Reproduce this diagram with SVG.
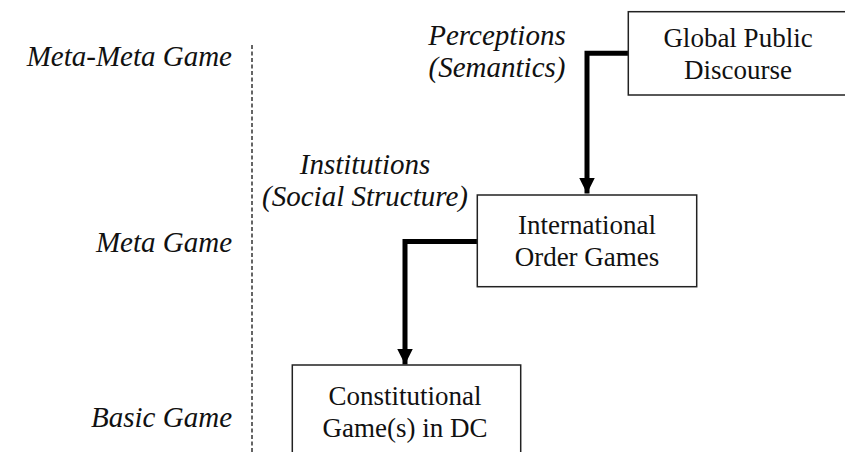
<svg xmlns="http://www.w3.org/2000/svg" width="845" height="452" viewBox="0 0 845 452">
  <defs>
    <marker id="arrow" viewBox="0 0 16 16" refX="16" refY="8" markerWidth="16" markerHeight="16" markerUnits="userSpaceOnUse" orient="auto">
      <path d="M0,0 L16,8 L0,16 Z" fill="#000000"/>
    </marker>
  </defs>
  <rect width="845" height="452" fill="#ffffff"/>

  <g id="levels" fill="#111111" style="font-family:'Liberation Serif','Times New Roman',serif">
    <text x="232" y="66" style="font-family:'Liberation Serif','Times New Roman',serif;font-size:29px;font-style:italic" text-anchor="end">Meta-Meta Game</text>
    <text x="232" y="252" style="font-family:'Liberation Serif','Times New Roman',serif;font-size:29px;font-style:italic" text-anchor="end">Meta Game</text>
    <text x="232" y="427" style="font-family:'Liberation Serif','Times New Roman',serif;font-size:29px;font-style:italic" text-anchor="end">Basic Game</text>
    <line x1="252" y1="45" x2="252" y2="452" stroke="#333333" stroke-width="1.5" stroke-dasharray="4 2.5"/>
  </g>

  <g id="edge-labels" fill="#111111" style="font-family:'Liberation Serif','Times New Roman',serif">
    <text x="497" y="45" style="font-family:'Liberation Serif','Times New Roman',serif;font-size:29px;font-style:italic" text-anchor="middle">Perceptions</text>
    <text x="497" y="77" style="font-family:'Liberation Serif','Times New Roman',serif;font-size:29px;font-style:italic" text-anchor="middle">(Semantics)</text>
    <text x="365" y="174" style="font-family:'Liberation Serif','Times New Roman',serif;font-size:29px;font-style:italic" text-anchor="middle">Institutions</text>
    <text x="365" y="206" style="font-family:'Liberation Serif','Times New Roman',serif;font-size:29px;font-style:italic" text-anchor="middle">(Social Structure)</text>
  </g>

  <g id="connectors" fill="none" stroke="#000000" stroke-width="5">
    <polyline points="628,53.3 587,53.3 587,193.5" marker-end="url(#arrow)"/>
    <polyline points="477,241.5 405,241.5 405,364.5" marker-end="url(#arrow)"/>
  </g>

  <g id="global-public-discourse" style="font-family:'Liberation Serif','Times New Roman',serif">
    <rect x="628.3" y="11.7" width="230" height="83.3" fill="#ffffff" stroke="#222222" stroke-width="1.5"/>
    <text x="738" y="47" style="font-family:'Liberation Serif','Times New Roman',serif;font-size:27px" text-anchor="middle" fill="#111111">Global Public</text>
    <text x="738" y="79" style="font-family:'Liberation Serif','Times New Roman',serif;font-size:27px" text-anchor="middle" fill="#111111">Discourse</text>
  </g>

  <g id="international-order-games" style="font-family:'Liberation Serif','Times New Roman',serif">
    <rect x="477.3" y="195" width="219.4" height="91.7" fill="#ffffff" stroke="#222222" stroke-width="1.5"/>
    <text x="587" y="233.5" style="font-family:'Liberation Serif','Times New Roman',serif;font-size:27px" text-anchor="middle" fill="#111111">International</text>
    <text x="587" y="265.5" style="font-family:'Liberation Serif','Times New Roman',serif;font-size:27px" text-anchor="middle" fill="#111111">Order Games</text>
  </g>

  <g id="constitutional-games" style="font-family:'Liberation Serif','Times New Roman',serif">
    <rect x="292.3" y="365" width="228.4" height="100" fill="#ffffff" stroke="#222222" stroke-width="1.5"/>
    <text x="405" y="405" style="font-family:'Liberation Serif','Times New Roman',serif;font-size:27px" text-anchor="middle" fill="#111111">Constitutional</text>
    <text x="405" y="437" style="font-family:'Liberation Serif','Times New Roman',serif;font-size:27px" text-anchor="middle" fill="#111111">Game(s) in DC</text>
  </g>
</svg>
